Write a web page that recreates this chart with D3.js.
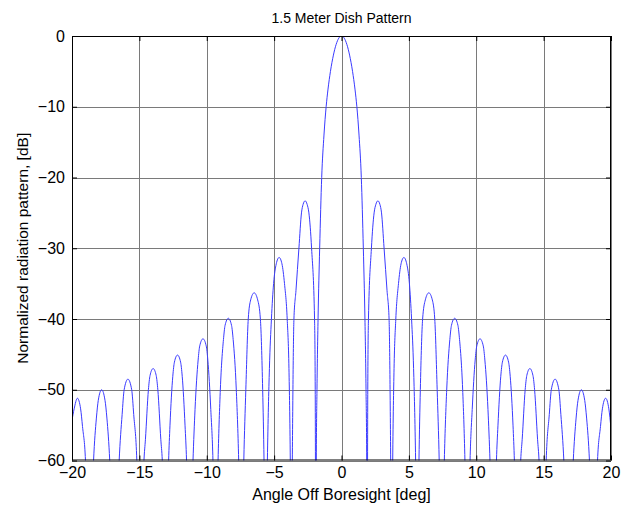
<!DOCTYPE html>
<html>
<head>
<meta charset="utf-8">
<script src="https://cdn.jsdelivr.net/npm/d3@7"></script>
<style>
  body { margin: 0; background: #fff; }
  svg { display: block; font-family: "Liberation Sans", Arial, Helvetica, sans-serif; }
</style>
</head>
<body>
<div class="container"></div>
<script>
// pattern, lobe by lobe (deg, dB)
const angleDeg = [
  -20, -19.84, -19.6, -19.36, -19.22, -19.0, -18.72,
  -18.4, -18.19, -18.05, -17.8, -17.55, -17.41, -17.2, -16.85,
  -16.5, -16.28, -16.13, -15.85, -15.57, -15.42, -15.19, -14.95,
  -14.66, -14.55, -14.33, -14.21, -13.98, -13.75, -13.63, -13.41, -13.3, -13.05,
  -12.83, -12.73, -12.52, -12.4, -12.17, -11.94, -11.82, -11.61, -11.5, -11.3,
  -11.02, -10.87, -10.64, -10.52, -10.28, -10.04, -9.92, -9.7, -9.54, -9.35,
  -9.16, -8.99, -8.76, -8.64, -8.4, -8.16, -8.04, -7.81, -7.63, -7.43,
  -7.25, -7.1, -6.92, -6.74, -6.48, -6.22, -6.02, -5.85, -5.75, -5.63,
  -5.5, -5.35, -5.2, -5.04, -4.84, -4.63, -4.42, -4.23, -4.03, -3.9, -3.8, -3.72,
  -3.65, -3.53, -3.38, -3.16, -2.97, -2.85, -2.7, -2.55, -2.42, -2.22, -2.0, -1.95, -1.9,
  -1.87, -1.82, -1.74, -1.62, -1.47, -1.3, -1.14, -1.0, -0.82, -0.6, -0.4, -0.2,
  0,
  0.2, 0.4, 0.6, 0.82, 1.0, 1.14, 1.3, 1.47, 1.62, 1.74, 1.82, 1.87,
  1.9, 1.95, 2.0, 2.22, 2.42, 2.55, 2.7, 2.85, 2.97, 3.16, 3.38, 3.53, 3.65,
  3.72, 3.8, 3.9, 4.03, 4.23, 4.42, 4.63, 4.84, 5.04, 5.2, 5.35, 5.5,
  5.63, 5.75, 5.85, 6.02, 6.22, 6.48, 6.74, 6.92, 7.1, 7.25,
  7.43, 7.63, 7.81, 8.04, 8.16, 8.4, 8.64, 8.76, 8.99, 9.16,
  9.35, 9.54, 9.7, 9.92, 10.04, 10.28, 10.52, 10.64, 10.87, 11.02,
  11.3, 11.5, 11.61, 11.82, 11.94, 12.17, 12.4, 12.52, 12.73, 12.83,
  13.05, 13.3, 13.41, 13.63, 13.75, 13.98, 14.21, 14.33, 14.55, 14.66,
  14.95, 15.19, 15.42, 15.57, 15.85, 16.13, 16.28, 16.5,
  16.85, 17.2, 17.41, 17.55, 17.8, 18.05, 18.19, 18.4,
  18.72, 19.0, 19.22, 19.36, 19.6, 19.84, 20
];
const patternDb = [
  -54.3, -52.7, -51.2, -52.7, -55.2, -60, -80,
  -60, -54, -51.5, -50, -51.5, -54, -60, -80,
  -60, -53.5, -50, -48.5, -50, -53.5, -60, -80,
  -60, -57, -50, -48, -47, -48, -50, -57, -60, -80,
  -60, -55.1, -48.1, -46.1, -45.1, -46.1, -48.1, -55.1, -60, -80,
  -60, -52.8, -45.8, -43.8, -42.8, -43.8, -45.8, -52.8, -60, -80,
  -60, -49.9, -42.9, -40.9, -39.9, -40.9, -42.9, -49.9, -60, -80,
  -60, -50, -40, -37.3, -36.3, -37.3, -40, -50, -60, -80,
  -60, -47, -40, -35, -32.2, -31.3, -32.2, -35, -40, -47, -60, -80,
  -60, -40, -36, -30, -25, -23.8, -23.3, -23.8, -25, -30, -40, -50, -80,
  -60, -50, -40, -30, -20, -14, -10, -7.5, -5, -2.7, -1.2, -0.3,
  0,
  -0.3, -1.2, -2.7, -5, -7.5, -10, -14, -20, -30, -40, -50, -60,
  -80, -50, -40, -30, -25, -23.8, -23.3, -23.8, -25, -30, -36, -40, -60,
  -80, -60, -47, -40, -35, -32.2, -31.3, -32.2, -35, -40, -47, -60,
  -80, -60, -50, -40, -37.3, -36.3, -37.3, -40, -50, -60,
  -80, -60, -49.9, -42.9, -40.9, -39.9, -40.9, -42.9, -49.9, -60,
  -80, -60, -52.8, -45.8, -43.8, -42.8, -43.8, -45.8, -52.8, -60,
  -80, -60, -55.1, -48.1, -46.1, -45.1, -46.1, -48.1, -55.1, -60,
  -80, -60, -57, -50, -48, -47, -48, -50, -57, -60,
  -80, -60, -53.5, -50, -48.5, -50, -53.5, -60,
  -80, -60, -54, -51.5, -50, -51.5, -54, -60,
  -80, -60, -55.2, -52.7, -51.2, -52.7, -55.5
];
const xTicks = [-20, -15, -10, -5, 0, 5, 10, 15, 20];
const yTicks = [0, -10, -20, -30, -40, -50, -60];

const width = 623;
const height = 507;
const plotLeft = 72, plotRight = 611, plotTop = 36, plotBottom = 460.5;

const points = angleDeg.map((a, i) => [a, patternDb[i]]);

const x = d3.scaleLinear().domain([-20, 20]).range([plotLeft, plotRight]);
const y = d3.scaleLinear().domain([-60, 0]).range([plotBottom, plotTop]);

const svg = d3.select('.container')
  .append('svg')
  .attr('width', width)
  .attr('height', height);

svg.append('rect').attr('width', width).attr('height', height).attr('fill', '#fff');

svg.append('defs').append('clipPath').attr('id', 'plot-clip')
  .append('rect')
  .attr('x', plotLeft).attr('y', plotTop)
  .attr('width', plotRight - plotLeft).attr('height', plotBottom - plotTop);

// grid
const grid = svg.append('g').attr('stroke', '#7a7a7a').attr('stroke-width', 1);
grid.selectAll('.vx').data(xTicks).enter().append('line')
  .attr('x1', d => Math.round(x(d)) + 0.5).attr('x2', d => Math.round(x(d)) + 0.5)
  .attr('y1', plotTop).attr('y2', plotBottom);
grid.selectAll('.hy').data(yTicks).enter().append('line')
  .attr('y1', d => Math.round(y(d)) + 0.5).attr('y2', d => Math.round(y(d)) + 0.5)
  .attr('x1', plotLeft).attr('x2', plotRight);

// curve
const line = d3.line()
  .x(d => x(d[0]))
  .y(d => y(d[1]))
  .curve(d3.curveMonotoneX);

svg.append('path')
  .datum(points)
  .attr('clip-path', 'url(#plot-clip)')
  .attr('fill', 'none')
  .attr('stroke', '#3a3aff')
  .attr('stroke-width', 1)
  .attr('d', line);

// axes, ticks inside on all four sides
const xAxisB = d3.axisBottom(x).tickValues(xTicks).tickSizeInner(-5).tickSizeOuter(0).tickPadding(6);
const xAxisT = d3.axisTop(x).tickValues(xTicks).tickSizeInner(-5).tickSizeOuter(0).tickFormat('');
const yAxisL = d3.axisLeft(y).tickValues(yTicks).tickSizeInner(-5).tickSizeOuter(0).tickPadding(7);
const yAxisR = d3.axisRight(y).tickValues(yTicks).tickSizeInner(-5).tickSizeOuter(0).tickFormat('');

function styleAxis(g) {
  g.select('.domain').remove();
  g.selectAll('line').attr('stroke', '#000');
  g.selectAll('text').attr('fill', '#000').style('font-size', '16px');
}

svg.append('g').attr('transform', `translate(0,${plotBottom})`).call(xAxisB).call(styleAxis);
svg.append('g').attr('transform', `translate(0,${plotTop})`).call(xAxisT).call(styleAxis);
svg.append('g').attr('transform', `translate(${plotLeft},0)`).call(yAxisL).call(styleAxis);
svg.append('g').attr('transform', `translate(${plotRight},0)`).call(yAxisR).call(styleAxis);

svg.append('rect')
  .attr('x', plotLeft + 0.5).attr('y', plotTop + 0.5)
  .attr('width', plotRight - plotLeft - 1).attr('height', plotBottom - plotTop - 1)
  .attr('fill', 'none').attr('stroke', '#000').attr('stroke-width', 1);

// labels
svg.append('text')
  .attr('x', (plotLeft + plotRight) / 2).attr('y', 23)
  .attr('text-anchor', 'middle').style('font-size', '14px')
  .text('1.5 Meter Dish Pattern');

svg.append('text')
  .attr('x', (plotLeft + plotRight) / 2).attr('y', 500)
  .attr('text-anchor', 'middle').style('font-size', '16px')
  .text('Angle Off Boresight [deg]');

svg.append('text')
  .attr('transform', `translate(28,${(plotTop + plotBottom) / 2}) rotate(-90)`)
  .attr('text-anchor', 'middle').style('font-size', '15.5px')
  .text('Normalized radiation pattern, [dB]');
</script>
</body>
</html>
